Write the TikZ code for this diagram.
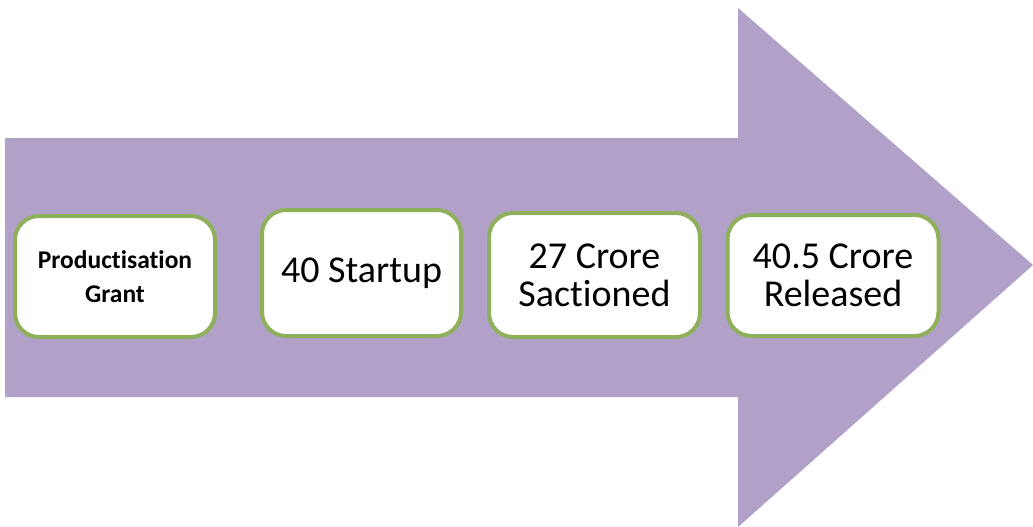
\documentclass[tikz,border=0pt]{standalone}
\usepackage{fontspec}
\setmainfont[Ligatures={NoCommon,NoRare}]{Carlito}
\definecolor{arrowfill}{HTML}{B1A0C7}
\definecolor{boxline}{HTML}{8FB05A}
\begin{document}
\begin{tikzpicture}[x=1pt,y=-1pt,
  stage/.style={draw=boxline, line width=4pt, fill=white, rounded corners=24pt,
    align=center, inner sep=0pt, font=\fontsize{38}{38}\selectfont}]
\useasboundingbox (0,0) rectangle (1033,527);
\fill[arrowfill] (5,138) -- (738,138) -- (738,8) -- (1033,265) -- (738,527) -- (738,397) -- (5,397) -- cycle;
\node[stage, minimum width=200pt, minimum height=121pt, font=\bfseries\fontsize{25.5}{34}\selectfont] (s1) at (115,276.5) {Produc\kern0pt tisation\\Grant};
\node[stage, minimum width=199pt, minimum height=126pt] (s2) at (361.5,273) {40 Startup};
\node[stage, minimum width=211pt, minimum height=124pt] (s3) at (594.5,275) {27 Crore\\Sac\kern0pt tioned};
\node[stage, minimum width=211pt, minimum height=121pt] (s4) at (833,275.5) {40.5 Crore\\Released};
\end{tikzpicture}
\end{document}
